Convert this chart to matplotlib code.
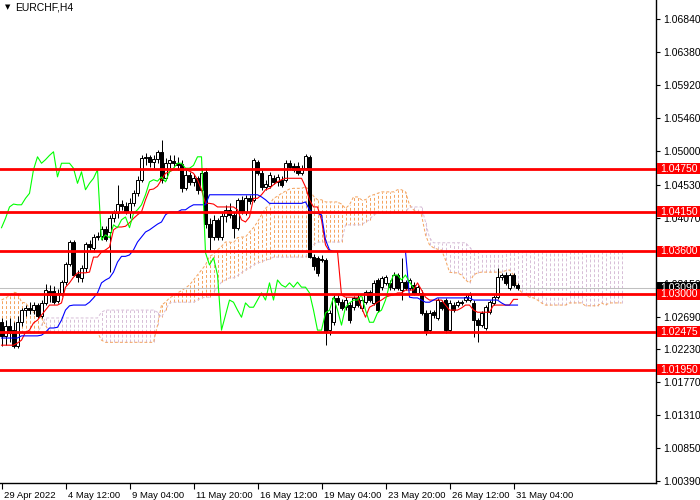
import numpy as np
import matplotlib
matplotlib.use('Agg')
import matplotlib.pyplot as plt
import matplotlib.transforms as mtransforms
from matplotlib.patches import Rectangle

plt.rcParams['font.family'] = ['Liberation Sans', 'DejaVu Sans']

symbol = 'EURCHF,H4'

# H4 candles, 29 Apr 20:00 .. 31 May 08:00
open_ = [
    1.0261, 1.0242, 1.0256, 1.0250, 1.0228, 1.0261, 1.0278, 1.0281, 1.0278, 1.0285,
    1.0270, 1.0288, 1.0305, 1.0305, 1.0291, 1.0302, 1.0317, 1.0342, 1.0373, 1.0328,
    1.0323, 1.0337, 1.0370, 1.0365, 1.0380, 1.0381, 1.0391, 1.0387, 1.0406, 1.0413,
    1.0426, 1.0423, 1.0415, 1.0427, 1.0441, 1.0460, 1.0490, 1.0492, 1.0485, 1.0489,
    1.0499, 1.0462, 1.0483, 1.0486, 1.0483, 1.0482, 1.0448, 1.0467, 1.0457, 1.0462,
    1.0446, 1.0471, 1.0398, 1.0380, 1.0404, 1.0380, 1.0409, 1.0418, 1.0411, 1.0393,
    1.0432, 1.0415, 1.0434, 1.0432, 1.0485, 1.0469, 1.0450, 1.0451, 1.0462, 1.0457,
    1.0460, 1.0460, 1.0483, 1.0479, 1.0479, 1.0469, 1.0476, 1.0492, 1.0352, 1.0351,
    1.0349, 1.0348, 1.0250, 1.0261, 1.0295, 1.0289, 1.0282, 1.0285, 1.0282, 1.0295,
    1.0281, 1.0289, 1.0303, 1.0288, 1.0320, 1.0310, 1.0316, 1.0316, 1.0309, 1.0327,
    1.0306, 1.0317, 1.0309, 1.0313, 1.0302, 1.0302, 1.0274, 1.0250, 1.0275, 1.0267,
    1.0289, 1.0292, 1.0250, 1.0285, 1.0285, 1.0289, 1.0292, 1.0292, 1.0288, 1.0264,
    1.0257, 1.0253, 1.0275, 1.0288, 1.0296, 1.0324, 1.0327, 1.0309, 1.0327, 1.0313,
]
high = [
    1.0267, 1.0264, 1.0267, 1.0261, 1.0270, 1.0281, 1.0285, 1.0289, 1.0289, 1.0288,
    1.0292, 1.0314, 1.0313, 1.0312, 1.0307, 1.0320, 1.0345, 1.0376, 1.0376, 1.0334,
    1.0341, 1.0373, 1.0376, 1.0384, 1.0387, 1.0395, 1.0395, 1.0411, 1.0418, 1.0453,
    1.0432, 1.0429, 1.0434, 1.0446, 1.0465, 1.0494, 1.0497, 1.0494, 1.0494, 1.0502,
    1.0516, 1.0490, 1.0494, 1.0494, 1.0492, 1.0488, 1.0474, 1.0471, 1.0468, 1.0465,
    1.0474, 1.0476, 1.0406, 1.0411, 1.0406, 1.0413, 1.0425, 1.0427, 1.0415, 1.0434,
    1.0437, 1.0439, 1.0439, 1.0490, 1.0488, 1.0474, 1.0460, 1.0471, 1.0467, 1.0468,
    1.0465, 1.0488, 1.0488, 1.0483, 1.0485, 1.0480, 1.0496, 1.0494, 1.0356, 1.0353,
    1.0355, 1.0351, 1.0278, 1.0299, 1.0299, 1.0293, 1.0296, 1.0289, 1.0298, 1.0300,
    1.0296, 1.0306, 1.0306, 1.0320, 1.0323, 1.0326, 1.0327, 1.0320, 1.0331, 1.0330,
    1.0351, 1.0320, 1.0323, 1.0317, 1.0313, 1.0306, 1.0278, 1.0278, 1.0278, 1.0295,
    1.0292, 1.0295, 1.0292, 1.0289, 1.0292, 1.0292, 1.0300, 1.0303, 1.0292, 1.0267,
    1.0277, 1.0285, 1.0292, 1.0299, 1.0337, 1.0330, 1.0331, 1.0330, 1.0330, 1.0316,
]
low = [
    1.0228, 1.0229, 1.0233, 1.0225, 1.0225, 1.0256, 1.0270, 1.0273, 1.0273, 1.0267,
    1.0267, 1.0285, 1.0289, 1.0286, 1.0288, 1.0298, 1.0313, 1.0340, 1.0326, 1.0317,
    1.0317, 1.0331, 1.0362, 1.0359, 1.0376, 1.0376, 1.0374, 1.0331, 1.0401, 1.0406,
    1.0418, 1.0412, 1.0406, 1.0423, 1.0437, 1.0457, 1.0480, 1.0478, 1.0476, 1.0483,
    1.0455, 1.0460, 1.0476, 1.0478, 1.0474, 1.0443, 1.0446, 1.0453, 1.0451, 1.0440,
    1.0443, 1.0393, 1.0362, 1.0376, 1.0376, 1.0376, 1.0401, 1.0406, 1.0379, 1.0390,
    1.0412, 1.0411, 1.0426, 1.0429, 1.0467, 1.0446, 1.0446, 1.0448, 1.0454, 1.0451,
    1.0450, 1.0457, 1.0474, 1.0471, 1.0467, 1.0467, 1.0474, 1.0351, 1.0334, 1.0326,
    1.0345, 1.0229, 1.0243, 1.0257, 1.0285, 1.0278, 1.0278, 1.0260, 1.0278, 1.0282,
    1.0277, 1.0286, 1.0289, 1.0285, 1.0275, 1.0306, 1.0313, 1.0306, 1.0306, 1.0306,
    1.0292, 1.0306, 1.0306, 1.0299, 1.0299, 1.0271, 1.0243, 1.0246, 1.0267, 1.0264,
    1.0278, 1.0246, 1.0247, 1.0275, 1.0282, 1.0285, 1.0289, 1.0289, 1.0240, 1.0233,
    1.0254, 1.0250, 1.0273, 1.0285, 1.0293, 1.0320, 1.0313, 1.0306, 1.0310, 1.0306,
]
close = [
    1.0242, 1.0256, 1.0246, 1.0228, 1.0261, 1.0278, 1.0281, 1.0278, 1.0285, 1.0270,
    1.0288, 1.0306, 1.0299, 1.0289, 1.0302, 1.0317, 1.0342, 1.0373, 1.0327, 1.0324,
    1.0337, 1.0370, 1.0366, 1.0380, 1.0381, 1.0391, 1.0377, 1.0406, 1.0413, 1.0426,
    1.0423, 1.0416, 1.0427, 1.0441, 1.0460, 1.0490, 1.0492, 1.0485, 1.0489, 1.0499,
    1.0460, 1.0483, 1.0488, 1.0483, 1.0480, 1.0448, 1.0467, 1.0457, 1.0462, 1.0446,
    1.0469, 1.0398, 1.0380, 1.0404, 1.0380, 1.0409, 1.0418, 1.0411, 1.0393, 1.0432,
    1.0415, 1.0434, 1.0430, 1.0488, 1.0469, 1.0450, 1.0454, 1.0467, 1.0457, 1.0464,
    1.0453, 1.0483, 1.0478, 1.0474, 1.0469, 1.0476, 1.0493, 1.0352, 1.0340, 1.0330,
    1.0348, 1.0247, 1.0274, 1.0295, 1.0289, 1.0281, 1.0292, 1.0264, 1.0295, 1.0285,
    1.0292, 1.0303, 1.0292, 1.0316, 1.0278, 1.0323, 1.0324, 1.0310, 1.0327, 1.0309,
    1.0317, 1.0309, 1.0320, 1.0302, 1.0310, 1.0274, 1.0247, 1.0274, 1.0271, 1.0292,
    1.0281, 1.0250, 1.0288, 1.0278, 1.0289, 1.0288, 1.0296, 1.0299, 1.0264, 1.0257,
    1.0274, 1.0282, 1.0289, 1.0296, 1.0324, 1.0327, 1.0316, 1.0327, 1.0313, 1.0309,
]

# Ichimoku lines as shown on the chart
tenkan = [
    1.0229, 1.0229, 1.0229, 1.0229, 1.0232, 1.0236, 1.0247, 1.0250, 1.0260, 1.0264,
    1.0271, 1.0278, 1.0285, 1.0285, 1.0285, 1.0288, 1.0310, 1.0316, 1.0324, 1.0330,
    1.0330, 1.0330, 1.0331, 1.0352, 1.0352, 1.0359, 1.0362, 1.0366, 1.0390, 1.0394,
    1.0394, 1.0395, 1.0400, 1.0406, 1.0411, 1.0415, 1.0432, 1.0446, 1.0447, 1.0451,
    1.0460, 1.0469, 1.0471, 1.0474, 1.0474, 1.0474, 1.0474, 1.0472, 1.0469, 1.0460,
    1.0446, 1.0427, 1.0427, 1.0426, 1.0422, 1.0422, 1.0422, 1.0422, 1.0422, 1.0418,
    1.0404, 1.0401, 1.0408, 1.0434, 1.0434, 1.0439, 1.0446, 1.0448, 1.0453, 1.0457,
    1.0460, 1.0462, 1.0462, 1.0462, 1.0462, 1.0462, 1.0450, 1.0432, 1.0422, 1.0422,
    1.0404, 1.0369, 1.0360, 1.0360, 1.0360, 1.0299, 1.0296, 1.0296, 1.0296, 1.0296,
    1.0282, 1.0268, 1.0282, 1.0285, 1.0289, 1.0292, 1.0296, 1.0298, 1.0299, 1.0302,
    1.0302, 1.0306, 1.0306, 1.0306, 1.0316, 1.0306, 1.0296, 1.0292, 1.0292, 1.0292,
    1.0292, 1.0285, 1.0278, 1.0278, 1.0278, 1.0281, 1.0285, 1.0285, 1.0278, 1.0275,
    1.0275, 1.0275, 1.0275, 1.0285, 1.0285, 1.0285, 1.0285, 1.0285, 1.0293, 1.0293,
]
kijun = [
    1.0239, 1.0239, 1.0239, 1.0239, 1.0239, 1.0242, 1.0242, 1.0242, 1.0242, 1.0242,
    1.0243, 1.0247, 1.0253, 1.0253, 1.0254, 1.0264, 1.0278, 1.0284, 1.0285, 1.0285,
    1.0285, 1.0285, 1.0289, 1.0295, 1.0302, 1.0316, 1.0320, 1.0323, 1.0331, 1.0345,
    1.0353, 1.0353, 1.0355, 1.0362, 1.0373, 1.0380, 1.0387, 1.0390, 1.0394, 1.0398,
    1.0401, 1.0411, 1.0415, 1.0415, 1.0415, 1.0418, 1.0418, 1.0422, 1.0425, 1.0425,
    1.0425, 1.0425, 1.0439, 1.0439, 1.0439, 1.0439, 1.0439, 1.0439, 1.0439, 1.0439,
    1.0439, 1.0439, 1.0439, 1.0439, 1.0439, 1.0436, 1.0432, 1.0427, 1.0427, 1.0427,
    1.0427, 1.0427, 1.0427, 1.0427, 1.0427, 1.0427, 1.0429, 1.0418, 1.0413, 1.0413,
    1.0411, 1.0376, 1.0362, 1.0360, 1.0360, 1.0360, 1.0360, 1.0360, 1.0360, 1.0360,
    1.0360, 1.0360, 1.0360, 1.0360, 1.0360, 1.0360, 1.0360, 1.0360, 1.0360, 1.0360,
    1.0360, 1.0360, 1.0296, 1.0295, 1.0295, 1.0292, 1.0289, 1.0289, 1.0292, 1.0295,
    1.0295, 1.0295, 1.0295, 1.0295, 1.0295, 1.0295, 1.0295, 1.0295, 1.0292, 1.0292,
    1.0292, 1.0292, 1.0292, 1.0292, 1.0292, 1.0288, 1.0285, 1.0285, 1.0285, 1.0285,
]
chikou = [
    1.0393, 1.0406, 1.0422, 1.0426, 1.0425, 1.0425, 1.0434, 1.0441, 1.0474, 1.0492,
    1.0483, 1.0488, 1.0494, 1.0499, 1.0464, 1.0483, 1.0483, 1.0483, 1.0476, 1.0455,
    1.0471, 1.0446, 1.0455, 1.0462, 1.0474, 1.0376, 1.0383, 1.0379, 1.0397, 1.0393,
    1.0404, 1.0408, 1.0393, 1.0413, 1.0418, 1.0425, 1.0439, 1.0457, 1.0460, 1.0458,
    1.0464, 1.0457, 1.0471, 1.0476, 1.0483, 1.0483, 1.0476, 1.0476, 1.0480, 1.0492,
    1.0492, 1.0358, 1.0341, 1.0351, 1.0327, 1.0250, 1.0271, 1.0292, 1.0289, 1.0278,
    1.0268, 1.0288, 1.0282, 1.0282, 1.0292, 1.0302, 1.0292, 1.0316, 1.0292, 1.0320,
    1.0313, 1.0310, 1.0316, 1.0310, 1.0317, 1.0310, 1.0310, 1.0302, 1.0278, 1.0250,
    1.0250, 1.0274, 1.0278, 1.0296, 1.0278, 1.0257, 1.0282, 1.0288, 1.0292, 1.0292,
    1.0299, 1.0278, 1.0261, 1.0261, 1.0274, 1.0278, 1.0292, 1.0313, 1.0327, 1.0327,
    1.0320, 1.0327, 1.0317, 1.0309,
]
span_a = [
    1.0292, 1.0295, 1.0298, 1.0303, 1.0302, 1.0289, 1.0288, 1.0281, 1.0275, 1.0271,
    1.0267, 1.0257, 1.0247, 1.0247, 1.0247, 1.0247, 1.0247, 1.0247, 1.0247, 1.0247,
    1.0247, 1.0247, 1.0247, 1.0247, 1.0247, 1.0236, 1.0233, 1.0233, 1.0233, 1.0233,
    1.0233, 1.0233, 1.0233, 1.0233, 1.0233, 1.0233, 1.0233, 1.0233, 1.0233, 1.0257,
    1.0285, 1.0289, 1.0295, 1.0298, 1.0302, 1.0305, 1.0309, 1.0313, 1.0320, 1.0327,
    1.0334, 1.0341, 1.0353, 1.0356, 1.0362, 1.0367, 1.0373, 1.0373, 1.0372, 1.0379,
    1.0380, 1.0380, 1.0387, 1.0393, 1.0401, 1.0411, 1.0420, 1.0425, 1.0434, 1.0437,
    1.0441, 1.0444, 1.0447, 1.0448, 1.0448, 1.0448, 1.0450, 1.0446, 1.0437, 1.0432,
    1.0432, 1.0429, 1.0429, 1.0429, 1.0429, 1.0426, 1.0420, 1.0425, 1.0436, 1.0436,
    1.0432, 1.0432, 1.0437, 1.0439, 1.0441, 1.0443, 1.0443, 1.0443, 1.0443, 1.0446,
    1.0446, 1.0443, 1.0425, 1.0418, 1.0415, 1.0411, 1.0383, 1.0369, 1.0365, 1.0363,
    1.0362, 1.0348, 1.0331, 1.0330, 1.0330, 1.0327, 1.0320, 1.0316, 1.0327, 1.0330,
    1.0331, 1.0331, 1.0331, 1.0331, 1.0331, 1.0331, 1.0333, 1.0334, 1.0327, 1.0309,
    1.0303, 1.0299, 1.0296, 1.0295, 1.0292, 1.0288, 1.0285, 1.0285, 1.0285, 1.0285,
    1.0285, 1.0285, 1.0288, 1.0288, 1.0288, 1.0288, 1.0284, 1.0284, 1.0284, 1.0284,
    1.0288, 1.0285, 1.0288, 1.0288, 1.0288, 1.0288,
]
span_b = [
    1.0246, 1.0246, 1.0246, 1.0246, 1.0246, 1.0246, 1.0246, 1.0246, 1.0246, 1.0246,
    1.0257, 1.0267, 1.0267, 1.0267, 1.0267, 1.0267, 1.0267, 1.0267, 1.0267, 1.0267,
    1.0267, 1.0267, 1.0267, 1.0267, 1.0267, 1.0275, 1.0278, 1.0278, 1.0278, 1.0278,
    1.0278, 1.0278, 1.0278, 1.0278, 1.0278, 1.0278, 1.0278, 1.0278, 1.0278, 1.0275,
    1.0268, 1.0278, 1.0288, 1.0289, 1.0289, 1.0289, 1.0289, 1.0289, 1.0289, 1.0292,
    1.0295, 1.0296, 1.0296, 1.0303, 1.0310, 1.0317, 1.0320, 1.0323, 1.0323, 1.0326,
    1.0330, 1.0334, 1.0337, 1.0341, 1.0344, 1.0345, 1.0348, 1.0349, 1.0352, 1.0352,
    1.0352, 1.0352, 1.0352, 1.0352, 1.0352, 1.0352, 1.0352, 1.0362, 1.0369, 1.0373,
    1.0373, 1.0373, 1.0373, 1.0373, 1.0373, 1.0373, 1.0397, 1.0397, 1.0397, 1.0397,
    1.0397, 1.0401, 1.0404, 1.0411, 1.0413, 1.0413, 1.0413, 1.0413, 1.0415, 1.0415,
    1.0415, 1.0415, 1.0422, 1.0422, 1.0422, 1.0422, 1.0401, 1.0379, 1.0372, 1.0372,
    1.0372, 1.0372, 1.0372, 1.0372, 1.0372, 1.0372, 1.0372, 1.0366, 1.0360, 1.0360,
    1.0360, 1.0360, 1.0360, 1.0360, 1.0360, 1.0360, 1.0360, 1.0360, 1.0360, 1.0360,
    1.0360, 1.0360, 1.0360, 1.0360, 1.0360, 1.0360, 1.0360, 1.0360, 1.0360, 1.0360,
    1.0360, 1.0360, 1.0360, 1.0360, 1.0360, 1.0360, 1.0360, 1.0360, 1.0360, 1.0360,
    1.0360, 1.0360, 1.0360, 1.0360, 1.0360, 1.0360,
]

levels = [1.04750, 1.04150, 1.03600, 1.03000, 1.02475, 1.01950]
last_price = 1.03090

price_ticks = [1.06840, 1.06380, 1.05920, 1.05460, 1.05000, 1.04530, 1.04070, 1.03610,
               1.03150, 1.02690, 1.02230, 1.01770, 1.01310, 1.00850, 1.00390]
time_labels = ['29 Apr 2022', '4 May 12:00', '9 May 04:00', '11 May 20:00', '16 May 12:00',
               '19 May 04:00', '23 May 20:00', '26 May 12:00', '31 May 04:00']
time_label_bars = [0, 16, 32, 48, 64, 80, 96, 112, 128]

W, H = 700, 500
fig = plt.figure(figsize=(W / 100, H / 100), dpi=100)
ax = fig.add_axes([0, 17 / H, 656 / W, 483 / H])

o = np.array(open_); c = np.array(close)
hi = np.array(high); lo = np.array(low)
x = np.arange(len(c))

# cloud: dotted vertical hatch between the spans, one 1px line per bar
a = np.array(span_a); b = np.array(span_b)
xc = np.arange(len(a))
dots = (0, (2.9, 2.0))
a_up = a >= b
for mask, col in ((a_up, '#F4A460'), (~a_up, '#D8BFD8')):
    ax.vlines(xc[mask], np.minimum(a, b)[mask], np.maximum(a, b)[mask], color=col,
              linestyles=dots, lw=0.72, zorder=1)
ax.plot(xc, a, color='#F4A460', ls=dots, lw=0.72, zorder=1)
ax.plot(xc, b, color='#D8BFD8', ls=dots, lw=0.72, zorder=1)

ax.axhline(last_price, color='silver', lw=0.75, zorder=2)

# candles
up = c >= o
ax.vlines(x, np.minimum(lo, np.minimum(o, c)), np.maximum(hi, np.maximum(o, c)),
          color='black', lw=0.72, zorder=3)
body_h = np.maximum(np.abs(c - o), 0.00003)
ax.bar(x, body_h, bottom=np.minimum(o, c), width=0.7,
       color=np.where(up, 'white', 'black'), edgecolor='black', linewidth=0.72, zorder=4)

ax.plot(x, tenkan, color='red', lw=0.8, zorder=5)
ax.plot(x, kijun, color='blue', lw=0.8, zorder=5)
ax.plot(np.arange(len(chikou)), chikou, color='lime', lw=0.8, zorder=5)

for lv in levels:
    ax.axhline(lv, color='red', lw=2, zorder=6)

# bar centres on pixel centres (4 px per bar)
ax.set_xlim(-0.375, 163.625)
ax.set_ylim(1.00366, 1.07109)
ax.spines['left'].set_visible(False)
ax.spines['top'].set_visible(False)
ax.spines['right'].set_linewidth(1.0)
ax.spines['bottom'].set_linewidth(1.0)

ax.yaxis.tick_right()
ax.set_yticks(price_ticks)
ax.set_yticklabels([f'{t:.5f}' for t in price_ticks])
ax.tick_params(axis='y', direction='out', length=3, width=0.8, pad=2, labelsize=7.5)

ax.set_xticks(time_label_bars)
ax.set_xticklabels(time_labels)
ax.tick_params(axis='x', direction='out', length=4, width=0.8, pad=2, labelsize=6.8)
shift = mtransforms.ScaledTranslation(2 / 100, 0, fig.dpi_scale_trans)
for lbl in ax.get_xticklabels():
    lbl.set_horizontalalignment('left')
    lbl.set_transform(lbl.get_transform() + shift)

# price labels on the right scale
trans = mtransforms.blended_transform_factory(ax.transAxes, ax.transData)
px_price = (1.07109 - 1.00366) / 483
box_w = 43 / 656
box_h = 11 * px_price
ax.add_patch(Rectangle((1.0 + 1 / 656, last_price - box_h / 2), box_w, box_h, transform=trans,
                       facecolor='black', edgecolor='none', clip_on=False, zorder=7))
ax.text(1.0 + 4 / 656, last_price, f'{last_price:.5f}', transform=trans, color='white',
        fontsize=7.5, va='center', ha='left', zorder=7.5, clip_on=False)
for lv in levels:
    ax.add_patch(Rectangle((1.0 + 1 / 656, lv - box_h / 2), box_w, box_h, transform=trans,
                           facecolor='red', edgecolor='none', clip_on=False, zorder=8))
    ax.text(1.0 + 4 / 656, lv, f'{lv:.5f}', transform=trans, color='white',
            fontsize=7.5, va='center', ha='left', zorder=9, clip_on=False)

fig.text(5 / W, 1 - 7 / H, '\u25bc', fontsize=5, va='center', ha='left', family='DejaVu Sans')
fig.text(15 / W, 1 - 7 / H, symbol, fontsize=7.5, va='center', ha='left')

fig.savefig('out.png', dpi=100)
